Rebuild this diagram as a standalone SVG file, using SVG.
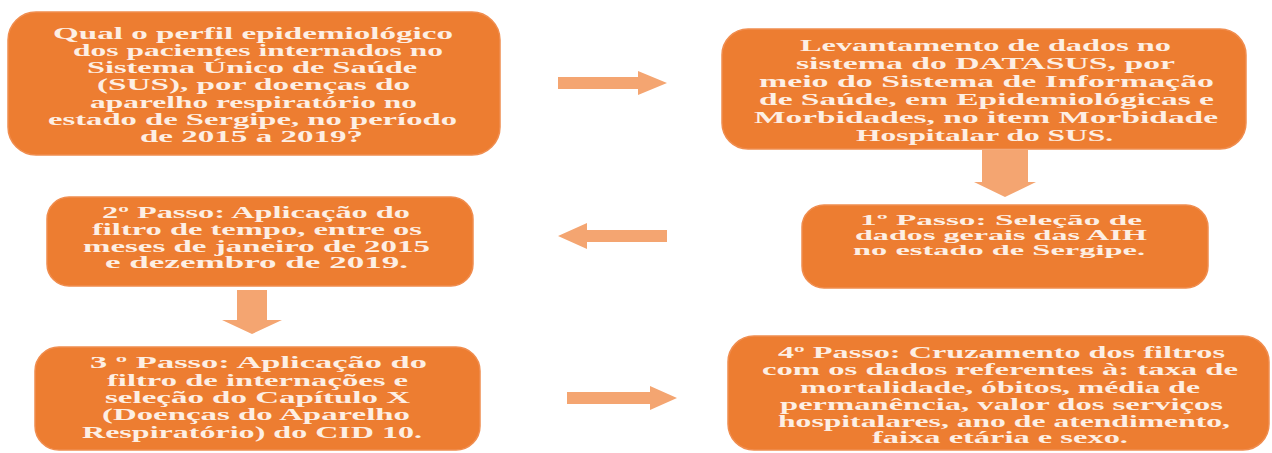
<svg xmlns="http://www.w3.org/2000/svg" width="1272" height="453" viewBox="0 0 1272 453">
<style>
.box{fill:#ED7D31;stroke:#F08D4F;stroke-width:1.5}
.t{font-family:"Liberation Serif","DejaVu Serif",serif;font-weight:bold;font-size:16px;fill:#FDEFE4}
.s{font-size:15px}
.arr{fill:#F4A571}
</style>
<rect width="1272" height="453" fill="#FFFFFF"/>
<g id="connectors">
<polygon class="arr" points="558,77 638,77 638,71 667,83 638,95 638,89 558,89"/>
<polygon class="arr" points="982,150 1028,150 1028,182 1036,182 1005,197 974,182 982,182"/>
<polygon class="arr" points="558,236 587,223 587,230 667,230 667,242 587,242 587,249"/>
<polygon class="arr" points="237,290 267,290 267,320 282,320 252,334 222,320 237,320"/>
<polygon class="arr" points="567,392 650,392 650,386 677,398 650,410 650,404 567,404"/>
</g>
<g id="node-question">
<rect class="box" x="8" y="12" width="492" height="143" rx="28"/>
<text class="t" x="53" y="39" textLength="400" lengthAdjust="spacingAndGlyphs">Qual o perfil epidemiológico</text>
<text class="t" x="73" y="56" textLength="370" lengthAdjust="spacingAndGlyphs">dos pacientes internados no</text>
<text class="t" x="87" y="73" textLength="330" lengthAdjust="spacingAndGlyphs">Sistema Único de Saúde</text>
<text class="t" x="97" y="90" textLength="313" lengthAdjust="spacingAndGlyphs">(SUS), por doenças do</text>
<text class="t" x="90" y="108" textLength="327" lengthAdjust="spacingAndGlyphs">aparelho respiratório no</text>
<text class="t" x="48" y="125" textLength="409" lengthAdjust="spacingAndGlyphs">estado de Sergipe, no período</text>
<text class="t" x="140" y="142" textLength="223" lengthAdjust="spacingAndGlyphs">de 2015 a 2019?</text>
</g>
<g id="node-levantamento">
<rect class="box" x="722" y="29" width="524" height="120" rx="26"/>
<text class="t" x="800" y="51" textLength="371" lengthAdjust="spacingAndGlyphs">Levantamento de dados no</text>
<text class="t" x="796" y="69" textLength="379" lengthAdjust="spacingAndGlyphs">sistema do DATASUS, por</text>
<text class="t" x="759" y="87" textLength="455" lengthAdjust="spacingAndGlyphs">meio do Sistema de Informação</text>
<text class="t" x="759" y="105" textLength="455" lengthAdjust="spacingAndGlyphs">de Saúde, em Epidemiológicas e</text>
<text class="t" x="754" y="123" textLength="464" lengthAdjust="spacingAndGlyphs">Morbidades, no item Morbidade</text>
<text class="t" x="856" y="141" textLength="257" lengthAdjust="spacingAndGlyphs">Hospitalar do SUS.</text>
</g>
<g id="node-passo1">
<rect class="box" x="802" y="205" width="406" height="83" rx="22"/>
<text class="t s" x="860" y="225" textLength="282" lengthAdjust="spacingAndGlyphs">1º Passo: Seleção de</text>
<text class="t s" x="855" y="240" textLength="292" lengthAdjust="spacingAndGlyphs">dados gerais das AIH</text>
<text class="t s" x="853" y="255" textLength="292" lengthAdjust="spacingAndGlyphs">no estado de Sergipe.</text>
</g>
<g id="node-passo2">
<rect class="box" x="47" y="197" width="426" height="89" rx="22"/>
<text class="t" x="102" y="218" textLength="308" lengthAdjust="spacingAndGlyphs">2º Passo: Aplicação do</text>
<text class="t" x="92" y="235" textLength="330" lengthAdjust="spacingAndGlyphs">filtro de tempo, entre os</text>
<text class="t" x="83" y="252" textLength="347" lengthAdjust="spacingAndGlyphs">meses de janeiro de 2015</text>
<text class="t" x="105" y="268" textLength="303" lengthAdjust="spacingAndGlyphs">e dezembro de 2019.</text>
</g>
<g id="node-passo3">
<rect class="box" x="35" y="347" width="445" height="103" rx="24"/>
<text class="t" x="90" y="368" textLength="337" lengthAdjust="spacingAndGlyphs">3 º Passo: Aplicação do</text>
<text class="t" x="107" y="386" textLength="301" lengthAdjust="spacingAndGlyphs">filtro de internações e</text>
<text class="t" x="105" y="403" textLength="305" lengthAdjust="spacingAndGlyphs">seleção do Capítulo X</text>
<text class="t" x="102" y="420" textLength="308" lengthAdjust="spacingAndGlyphs">(Doenças do Aparelho</text>
<text class="t" x="82" y="438" textLength="340" lengthAdjust="spacingAndGlyphs">Respiratório) do CID 10.</text>
</g>
<g id="node-passo4">
<rect class="box" x="728" y="336" width="541" height="114" rx="26"/>
<text class="t" x="778" y="358" textLength="447" lengthAdjust="spacingAndGlyphs">4º Passo: Cruzamento dos filtros</text>
<text class="t" x="762" y="375" textLength="476" lengthAdjust="spacingAndGlyphs">com os dados referentes à: taxa de</text>
<text class="t" x="800" y="393" textLength="400" lengthAdjust="spacingAndGlyphs">mortalidade, óbitos, média de</text>
<text class="t" x="780" y="410" textLength="443" lengthAdjust="spacingAndGlyphs">permanência, valor dos serviços</text>
<text class="t" x="778" y="427" textLength="452" lengthAdjust="spacingAndGlyphs">hospitalares, ano de atendimento,</text>
<text class="t" x="872" y="443" textLength="256" lengthAdjust="spacingAndGlyphs">faixa etária e sexo.</text>
</g>
</svg>
